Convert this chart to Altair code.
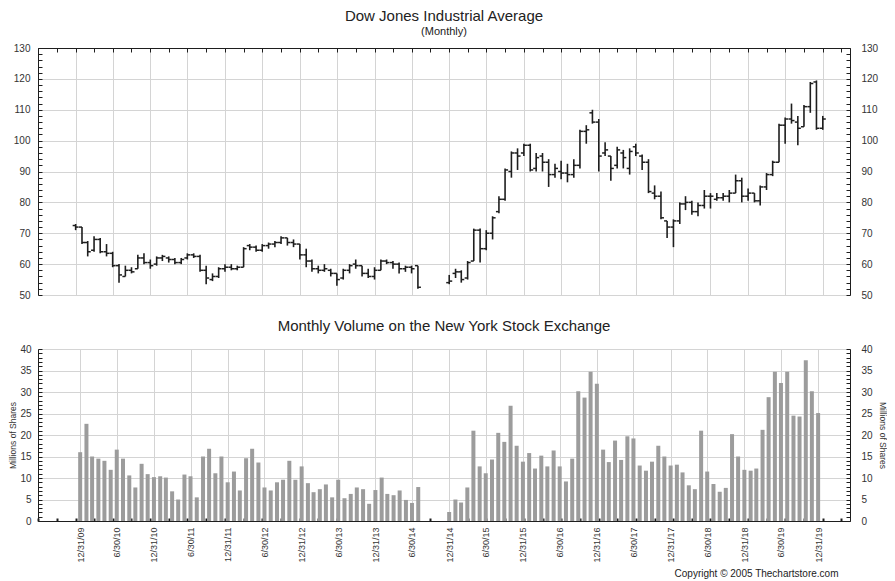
import altair as alt
import pandas as pd

# ---------------- data ----------------
# months shown: Dec 1909 - Jul 1914, then Dec 1914 - Dec 1919 (exchange closed Aug-Nov 1914)
period_a = ("1909-12", "1914-07")
period_b = ("1914-12", "1919-12")

# Dow Jones Industrial Average, monthly bars
high_a = [73, 72, 67.5, 69, 68.5, 66.5, 64, 60, 59.5, 59, 63, 63.5, 61.5, 62.5, 63, 62.5, 62, 62, 63.5, 63.5,
          63, 59.5, 57, 59, 60, 60, 59.5, 65.5, 66.5, 66, 66.5, 67, 67.5, 69, 68.5, 68, 66.5, 65, 61.5, 59.5,
          60, 58.5, 57, 58.5, 60, 61.5, 59.5, 58.5, 59, 61.5, 61.5, 61, 60.5, 59.5, 59.5, 59.5]
low_a = [71, 66.5, 62.5, 64, 63.5, 62.5, 59, 54, 56, 57, 58.5, 60, 58.5, 59.5, 61, 60.5, 60, 60, 61.5, 62,
         57.5, 53.5, 54.5, 55.5, 57.5, 58, 58, 59, 64.5, 64, 64, 65, 65.5, 66.5, 66, 65.5, 61.5, 59, 57.5, 57,
         57.5, 56, 53, 55, 57, 58.5, 56, 55.5, 55, 58, 60, 58.5, 57, 57.5, 57, 52]
open_a = [72.5, 72, 67, 64.5, 68, 64, 63.5, 59.5, 56, 58, 58.5, 62, 60.5, 60, 62, 62, 61.5, 60.5, 62, 63,
          62.5, 58, 55, 56, 58.5, 59, 58.5, 59, 66, 65.5, 64.5, 66, 66.5, 67, 68.5, 67, 66.5, 63, 61, 58.5,
          58, 58, 57, 55.5, 58, 60, 59.5, 57, 56, 58, 61, 60.5, 60, 58.5, 59, 59.5]
close_a = [72, 67, 64, 68, 64, 63.5, 59.5, 56.5, 58, 57.5, 62, 60.5, 59.5, 62, 62.5, 61.5, 60.5, 61.5, 63, 62.5,
           58, 55.5, 56, 58.5, 59, 58.5, 59, 65, 65.5, 64.5, 66, 66.5, 67, 68.5, 67, 66.5, 63, 61, 58.5, 58,
           58.5, 57, 55, 58, 59.5, 59.5, 57, 56, 58, 61, 60.5, 60, 58.5, 59, 58.5, 52.5]

high_b = [56.5, 58.5, 58, 61, 71.5, 71.5, 71, 75.5, 82, 91, 96.5, 97.5, 99, 99, 96, 96, 94, 92.5, 93.5, 92.5,
          94, 103.5, 105, 110, 107, 99.5, 95, 98, 97, 97.5, 99, 95.5, 94, 85.5, 83.5, 74, 74.5, 80, 82, 80.5,
          80, 84, 83, 83, 83, 84, 89, 88, 84.5, 83, 85.5, 89.5, 93.5, 105.5, 107.5, 112, 108, 111.5, 119, 119.5,
          108]
low_b = [53.5, 55.5, 54, 55, 61, 60.5, 64.5, 68, 76.5, 80.5, 88, 90.5, 95, 90, 90, 90, 85, 88, 87.5, 86.5,
         88, 91, 99, 105.5, 90, 95, 87, 91, 91, 89, 95, 90.5, 83, 81, 74.5, 68.5, 65.5, 73, 77.5, 76,
         75.5, 78, 78, 80.5, 80.5, 80, 83, 80, 80.5, 80, 79, 84, 88.5, 93, 99, 105.5, 98.5, 104.5, 109, 103.5,
         103.5]
open_b = [54, 57, 57.5, 55.5, 61, 71, 65, 70, 77, 81, 90, 96, 96, 98.5, 91, 95, 93, 89, 90, 89.5,
          89, 92, 103, 109, 106, 96, 95, 92, 96, 91, 98, 95, 93, 83, 82, 74, 72, 74, 79.5, 80,
          77, 79, 82, 81, 81.5, 82, 83, 87, 82, 83, 80.5, 85, 89, 93, 105, 107, 106, 104.5, 111, 119,
          104]
close_b = [54.5, 57.5, 55, 60.5, 71, 65, 70, 75, 81, 90.5, 96, 95, 98.5, 90.5, 94.5, 93, 89, 91, 89.5, 89,
           92, 103, 103.5, 106, 95, 97, 91, 97, 94.5, 96.5, 96, 93, 83.5, 82, 75, 72, 74, 79.5, 80, 77,
           79, 82, 82, 81.5, 82, 83, 87, 82, 83, 80.5, 85, 89, 93, 105, 107, 106.5, 104, 111, 118.5, 104,
           107]

# NYSE monthly volume, millions of shares
vol_a = [16.0, 22.6, 15.0, 14.5, 14.0, 11.9, 16.6, 14.5, 10.6, 7.8, 13.3, 10.9, 10.2, 10.4, 10.1, 6.9, 5.0,
         10.8, 10.4, 5.5, 15.0, 16.8, 11.1, 15.0, 9.0, 11.5, 7.1, 14.6, 16.8, 13.6, 7.8, 7.1, 9.0, 9.6, 14.0,
         9.6, 12.7, 8.8, 6.7, 7.4, 8.5, 5.5, 9.6, 5.3, 6.3, 7.8, 7.4, 4.0, 7.2, 10.1, 6.3, 6.0, 7.1, 4.9, 4.2,
         7.9]
vol_b = [2.1, 5.0, 4.3, 7.8, 21.0, 12.7, 11.1, 14.3, 20.5, 18.4, 26.8, 17.5, 13.8, 15.8, 12.2, 15.2, 12.7,
         16.4, 12.7, 9.2, 14.5, 30.2, 28.7, 34.7, 31.9, 16.6, 13.7, 18.7, 14.2, 19.7, 19.2, 12.9, 11.7, 13.8,
         17.5, 15.0, 12.9, 13.1, 11.3, 8.3, 7.4, 21.0, 11.5, 8.6, 6.8, 7.7, 20.2, 15.0, 11.9, 11.7, 12.2, 21.2,
         28.8, 34.7, 32.1, 34.7, 24.5, 24.3, 37.4, 30.2, 25.1]

price_ticks = list(range(50, 131, 10))
price_minor = list(range(50, 131, 2))
vol_ticks = list(range(0, 41, 5))
vol_minor = list(range(0, 41, 1))

TITLE_PRICE = "Dow Jones Industrial Average"
SUB_PRICE = "(Monthly)"
TITLE_VOL = "Monthly Volume on the New York Stock Exchange"
AXIS_VOL = "Millions of Shares"
COPYRIGHT = "Copyright \u00a9 2005 Thechartstore.com"


# ---------------- helpers ----------------
def month_ends(start, end):
    out = []
    for p in pd.period_range(start, end, freq="M"):
        out.append(pd.Timestamp(year=p.year, month=p.month, day=p.days_in_month))
    return out


def ms(ts):
    return int(pd.Timestamp(ts).value // 10**6)


dates = month_ends(*period_a) + month_ends(*period_b)
df = pd.DataFrame({
    "t": [ms(d) for d in dates],
    "high": high_a + high_b,
    "low": low_a + low_b,
    "open": open_a + open_b,
    "close": close_a + close_b,
    "vol": vol_a + vol_b,
})

half_vals = [ms(d) for d in month_ends("1909-12", "1919-12") if d.month in (6, 12)]
quarter_vals = [ms(d) for d in month_ends("1909-06", "1920-03") if d.month in (3, 6, 9, 12)]
X_DOM = [ms("1909-06-30"), ms("1920-05-12")]

INK = "#1e1e1e"
GRID = "#d4d4d4"
LAB = "#333333"
BAR = "#9c9c9c"
FONT = "Liberation Sans"
W = 812


def xscale():
    return alt.Scale(type="utc", domain=X_DOM, nice=False)


def yscale(dom):
    return alt.Scale(domain=dom, nice=False, zero=False)


label_kw = dict(labelFont=FONT, labelFontSize=10, labelColor=LAB)

# ---------------- price panel ----------------
base = alt.Chart(df)

hl = base.mark_rule(color=INK, strokeWidth=1.6).encode(
    x=alt.X("t:T", scale=xscale(), axis=alt.Axis(
        orient="top", values=half_vals, grid=True, gridColor=GRID, labels=False,
        ticks=False, domain=True, domainColor=INK, title=None)),
    y=alt.Y("low:Q", scale=yscale([50, 130]), axis=alt.Axis(
        orient="left", values=price_ticks, grid=True, gridColor=GRID, ticks=False,
        domain=True, domainColor=INK, labelPadding=8, title=None, **label_kw)),
    y2="high:Q",
)

opn = base.mark_rule(color=INK, strokeWidth=1.5, xOffset=-3, x2Offset=0).encode(
    x=alt.X("t:T", scale=xscale(), axis=alt.Axis(
        orient="top", values=quarter_vals, offset=-4, tickSize=4, tickColor=INK,
        labels=False, domain=False, grid=False, title=None)),
    x2="t:T",
    y=alt.Y("open:Q", scale=yscale([50, 130]), axis=alt.Axis(
        orient="right", values=price_ticks, grid=False, ticks=False, domain=True,
        domainColor=INK, labelPadding=11, title=None, **label_kw)),
)

cls = base.mark_rule(color=INK, strokeWidth=1.5, xOffset=0, x2Offset=3).encode(
    x=alt.X("t:T", scale=xscale(), axis=None),
    x2="t:T",
    y=alt.Y("close:Q", scale=yscale([50, 130]), axis=alt.Axis(
        orient="left", values=price_minor, offset=-4, tickSize=4, tickColor=INK,
        labels=False, domain=False, grid=False, title=None)),
)

ghost_p = base.mark_point(opacity=0).encode(
    x=alt.X("t:T", scale=xscale(), axis=None),
    y=alt.Y("close:Q", scale=yscale([50, 130]), axis=alt.Axis(
        orient="right", values=price_minor, offset=-4, tickSize=4, tickColor=INK,
        labels=False, domain=False, grid=False, title=None)),
)

price = alt.layer(hl, opn, cls, ghost_p).resolve_scale(
    x="independent", y="independent"
).properties(
    width=W, height=247,
    title=alt.TitleParams(
        TITLE_PRICE, subtitle=SUB_PRICE, font=FONT, fontSize=15, fontWeight="normal",
        color="#222222", subtitleFont=FONT, subtitleFontSize=11, subtitleColor="#222222",
        subtitlePadding=2, anchor="middle", offset=6),
)

# ---------------- volume panel ----------------
bars = base.mark_bar(size=4, color=BAR).encode(
    x=alt.X("t:T", scale=xscale(), axis=alt.Axis(
        orient="bottom", values=half_vals, grid=True, gridColor=GRID, ticks=False,
        domain=True, domainColor=INK, labelAngle=-90, labelPadding=6,
        labelExpr="utcFormat(datum.value, '%-m/%-d/%y')",
        labelFont=FONT, labelFontSize=9, labelColor=LAB,
        title=COPYRIGHT, titleFont=FONT, titleFontSize=10, titleFontWeight="normal",
        titleColor="#222222", titleX=800, titleY=52, titleAlign="right",
        titleBaseline="middle")),
    y=alt.Y("vol:Q", scale=yscale([0, 40]), axis=alt.Axis(
        orient="left", values=vol_ticks, grid=True, gridColor=GRID, ticks=False,
        domain=True, domainColor=INK, labelPadding=7, title=AXIS_VOL,
        titleFont=FONT, titleFontSize=8.5, titleFontWeight="normal",
        titleColor=LAB, titlePadding=2, **label_kw)),
)

ghost_v1 = base.mark_point(opacity=0).encode(
    x=alt.X("t:T", scale=xscale(), axis=None),
    y=alt.Y("vol:Q", scale=yscale([0, 40]), axis=alt.Axis(
        orient="right", values=vol_ticks, grid=False, ticks=False, domain=True,
        domainColor=INK, labelPadding=11, title=AXIS_VOL, titleFont=FONT,
        titleFontSize=8.5, titleFontWeight="normal", titleColor=LAB,
        titlePadding=5, **label_kw)),
)

ghost_v2 = base.mark_point(opacity=0).encode(
    x=alt.X("t:T", scale=xscale(), axis=alt.Axis(
        orient="bottom", values=quarter_vals, offset=-3, tickSize=3, tickColor=INK,
        tickWidth=2, labels=False, domain=False, grid=False, title=None)),
    y=alt.Y("vol:Q", scale=yscale([0, 40]), axis=alt.Axis(
        orient="left", values=vol_minor, offset=-4, tickSize=4, tickColor=INK,
        labels=False, domain=False, grid=False, title=None)),
)

ghost_v3 = base.mark_point(opacity=0).encode(
    x=alt.X("t:T", scale=xscale(), axis=None),
    y=alt.Y("vol:Q", scale=yscale([0, 40]), axis=alt.Axis(
        orient="right", values=vol_minor, offset=-4, tickSize=4, tickColor=INK,
        labels=False, domain=False, grid=False, title=None)),
)

volume = alt.layer(bars, ghost_v1, ghost_v2, ghost_v3).resolve_scale(
    x="independent", y="independent"
).properties(
    width=W, height=172,
    title=alt.TitleParams(
        TITLE_VOL, font=FONT, fontSize=15, fontWeight="normal", color="#222222",
        anchor="middle", offset=10),
)

chart = alt.vconcat(price, volume, spacing=54, bounds="flush").properties(
    padding={"left": 0, "top": 0, "right": 0, "bottom": 0}
).configure_view(stroke=None).configure(background="white")

chart.save("out.html", embed_options={"renderer": "svg", "actions": False})
